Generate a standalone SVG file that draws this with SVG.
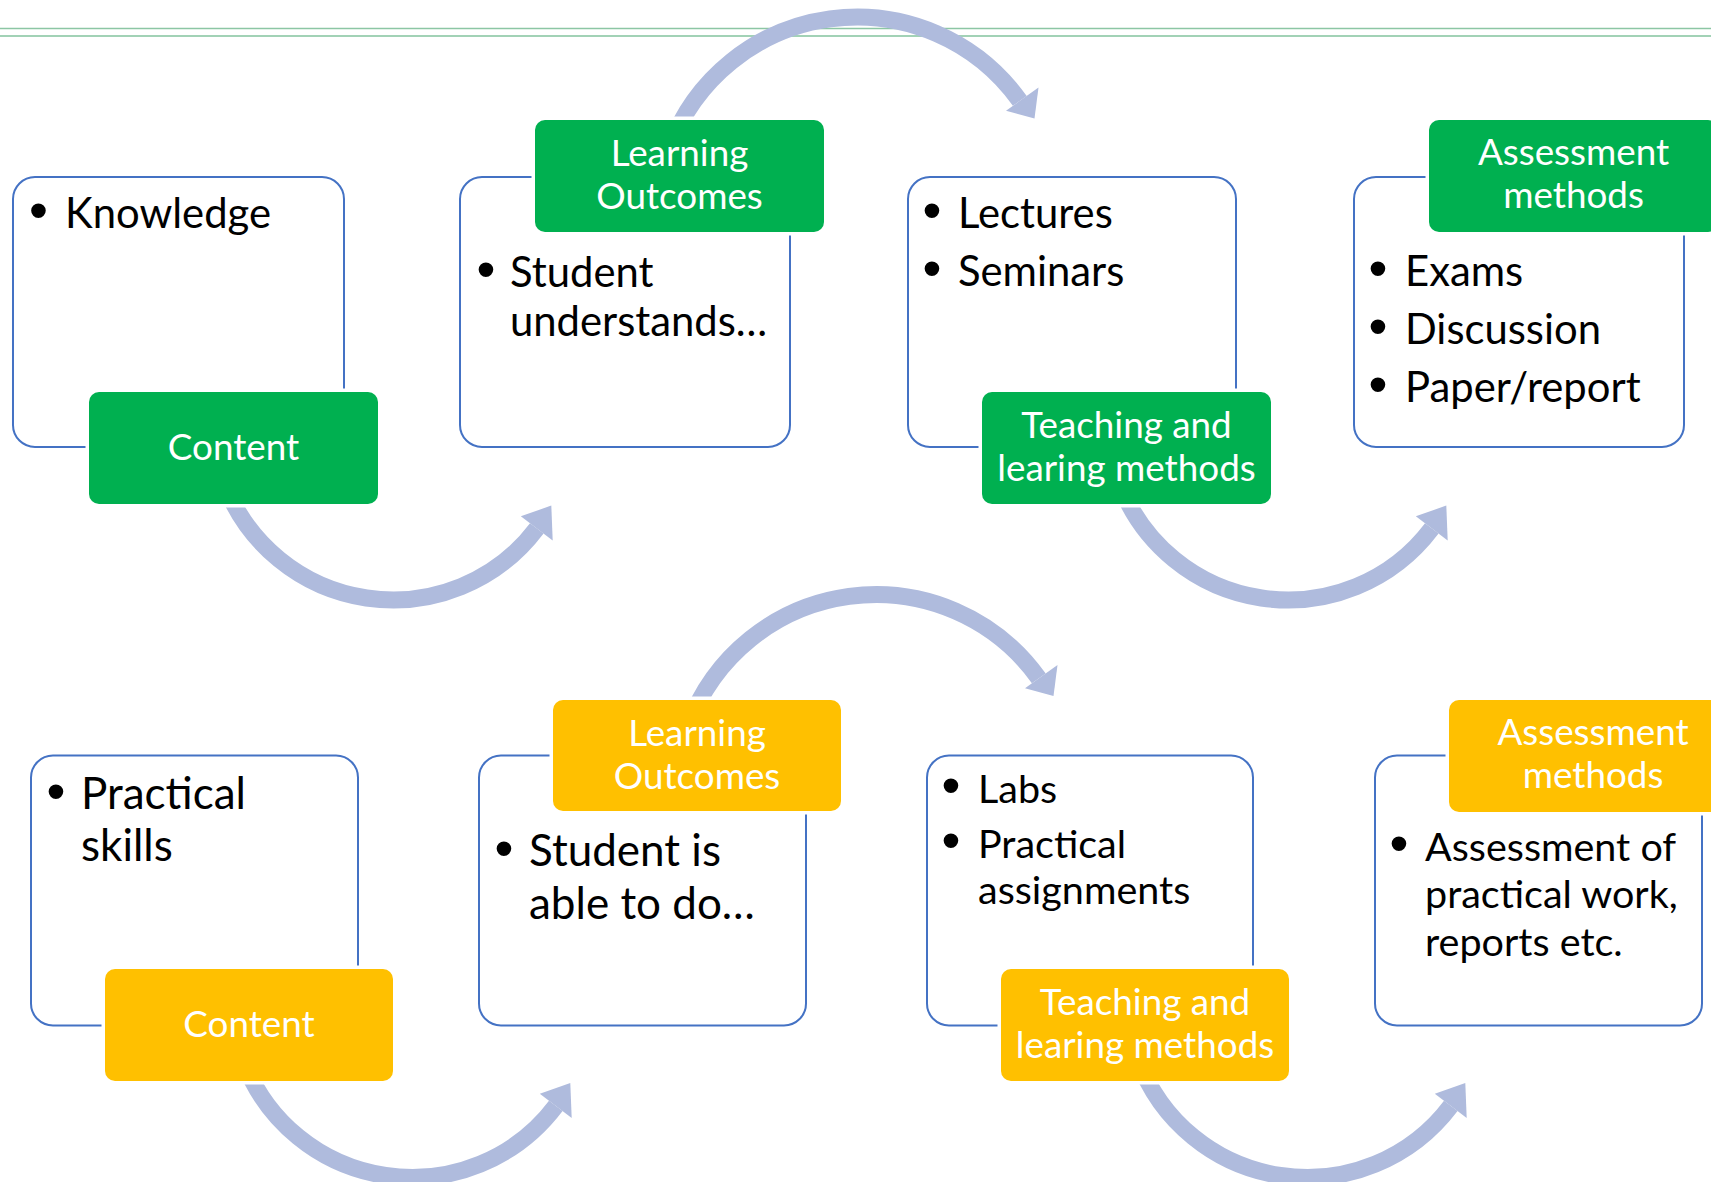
<svg xmlns="http://www.w3.org/2000/svg" width="1711" height="1182" viewBox="0 0 1711 1182">
<style>
.box{fill:#fff;stroke:#4472C4;stroke-width:2}
.lg{fill:#00B050;stroke:#fff;stroke-width:7;paint-order:stroke}
.ly{fill:#FFC000;stroke:#fff;stroke-width:7;paint-order:stroke}
.lt{font-family:Lato,"Liberation Sans",sans-serif;font-size:36.8px;fill:#fff;text-anchor:middle}
.bt{font-family:Lato,"Liberation Sans",sans-serif;fill:#000}
.s1{font-size:41.8px}
.s2{font-size:44px}
.s3{font-size:39.5px}
.bul{font-family:"Liberation Sans",Arial,sans-serif;font-size:54px;fill:#000;text-anchor:middle}
.arc{fill:none;stroke:#AFBBDD;stroke-width:17}
.head{fill:#AFBBDD}
</style>
<rect width="1711" height="1182" fill="#fff"/>
<g id="rules">
<line x1="0" y1="28.5" x2="1711" y2="28.5" stroke="#8CC6A4" stroke-width="1.5"/>
<line x1="0" y1="36" x2="1711" y2="36" stroke="#A2D2B6" stroke-width="2"/>
</g>
<g id="connectors">
<g id="c1"><path class="arc" d="M223.9 481.6 A180 180 0 0 0 536.8 528.3"/><polygon class="head" points="520.8,516.3 551.3,505.6 552.7,540.4"/></g>
<g id="c2"><path class="arc" d="M669.1 148.6 A200 200 0 0 1 1019.8 100.9"/><polygon class="head" points="1006,110.7 1034.5,118.6 1038.5,87.5"/></g>
<g id="c3"><path class="arc" d="M1118.9 481.6 A180 180 0 0 0 1431.8 528.3"/><polygon class="head" points="1415.8,516.3 1446.3,505.6 1447.7,540.4"/></g>
<g id="c4"><path class="arc" d="M242.9 1059.1 A180 180 0 0 0 555.8 1105.8"/><polygon class="head" points="539.8,1093.8 570.3,1083.1 571.7,1117.9"/></g>
<g id="c5"><path class="arc" d="M688.1 726.1 A200 200 0 0 1 1038.8 678.4"/><polygon class="head" points="1025,688.2 1053.5,696.1 1057.5,665"/></g>
<g id="c6"><path class="arc" d="M1137.9 1059.1 A180 180 0 0 0 1450.8 1105.8"/><polygon class="head" points="1434.8,1093.8 1465.3,1083.1 1466.7,1117.9"/></g>
</g>
<g id="n1">
<rect class="box" x="13" y="177" width="331" height="270" rx="22"/>
<text class="bul" x="38.5" y="229">•</text>
<text class="bt s1" x="65" y="228">Knowledge</text>
<rect class="lg" x="89" y="392" width="289" height="112" rx="10"/>
<text class="lt" x="233.5" y="460">Content</text>
</g>
<g id="n2">
<rect class="box" x="460" y="177" width="330" height="270" rx="22"/>
<text class="bul" x="486" y="288">•</text>
<text class="bt s1" x="510" y="287">Student</text>
<text class="bt s1" x="510" y="336">understands…</text>
<rect class="lg" x="535" y="120" width="289" height="112" rx="10"/>
<text class="lt" x="679.5" y="166">Learning</text>
<text class="lt" x="679.5" y="209">Outcomes</text>
</g>
<g id="n3">
<rect class="box" x="908" y="177" width="328" height="270" rx="22"/>
<text class="bul" x="932" y="229">•</text>
<text class="bt s1" x="958" y="228">Lectures</text>
<text class="bul" x="932" y="286.5">•</text>
<text class="bt s1" x="958" y="285.5">Seminars</text>
<rect class="lg" x="982" y="392" width="289" height="112" rx="10"/>
<text class="lt" x="1126.5" y="438">Teaching and</text>
<text class="lt" x="1126.5" y="481">learing methods</text>
</g>
<g id="n4">
<rect class="box" x="1354" y="177" width="330" height="270" rx="22"/>
<text class="bul" x="1378" y="287">•</text>
<text class="bt s1" x="1405" y="286">Exams</text>
<text class="bul" x="1378" y="345">•</text>
<text class="bt s1" x="1405" y="344">Discussion</text>
<text class="bul" x="1378" y="403">•</text>
<text class="bt s1" x="1405" y="402">Paper/report</text>
<rect class="lg" x="1429" y="120" width="289" height="112" rx="10"/>
<text class="lt" x="1573.5" y="165">Assessment</text>
<text class="lt" x="1573.5" y="208">methods</text>
</g>
<g id="n5">
<rect class="box" x="31" y="755.5" width="327" height="270" rx="22"/>
<text class="bul" x="56" y="810">•</text>
<text class="bt s2" x="81" y="809">Practical</text>
<text class="bt s2" x="81" y="861">skills</text>
<rect class="ly" x="105" y="969" width="288" height="112" rx="10"/>
<text class="lt" x="249" y="1037">Content</text>
</g>
<g id="n6">
<rect class="box" x="479" y="755.5" width="327" height="270" rx="22"/>
<text class="bul" x="504" y="866.5">•</text>
<text class="bt s2" x="529" y="865.5">Student is</text>
<text class="bt s2" x="529" y="918.5">able to do…</text>
<rect class="ly" x="553" y="700" width="288" height="111" rx="10"/>
<text class="lt" x="697" y="745.5">Learning</text>
<text class="lt" x="697" y="788.5">Outcomes</text>
</g>
<g id="n7">
<rect class="box" x="927" y="755.5" width="326" height="270" rx="22"/>
<text class="bul" x="951" y="804">•</text>
<text class="bt s3" x="978" y="803">Labs</text>
<text class="bul" x="951" y="859">•</text>
<text class="bt s3" x="978" y="858">Practical</text>
<text class="bt s3" x="978" y="904">assignments</text>
<rect class="ly" x="1001" y="969" width="288" height="112" rx="10"/>
<text class="lt" x="1145" y="1015">Teaching and</text>
<text class="lt" x="1145" y="1058">learing methods</text>
</g>
<g id="n8">
<rect class="box" x="1375" y="755.5" width="327" height="270" rx="22"/>
<text class="bul" x="1399" y="862">•</text>
<text class="bt s3" x="1425" y="861">Assessment of</text>
<text class="bt s3" x="1425" y="908">practical work,</text>
<text class="bt s3" x="1425" y="956">reports etc.</text>
<rect class="ly" x="1449" y="700" width="288" height="112" rx="10"/>
<text class="lt" x="1593" y="745">Assessment</text>
<text class="lt" x="1593" y="788">methods</text>
</g>
</svg>
